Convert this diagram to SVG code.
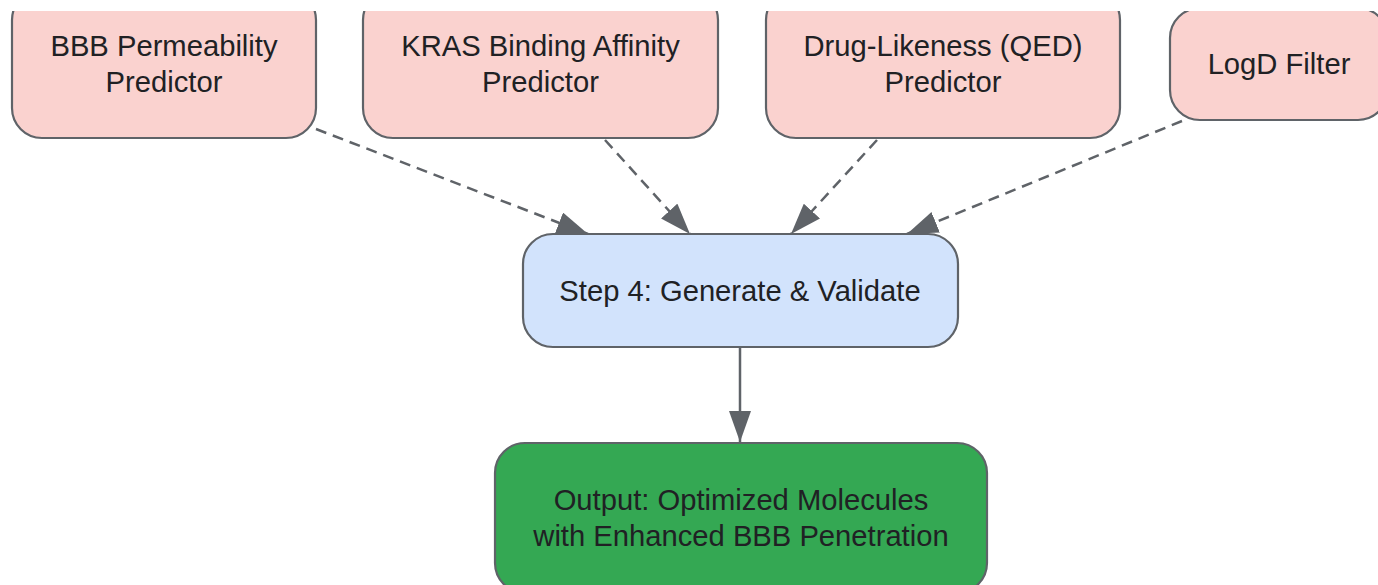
<svg xmlns="http://www.w3.org/2000/svg" width="1378" height="585" viewBox="0 0 1378 585">
<style>
.node rect{stroke:#5f6368;stroke-width:2.2}
.pink{fill:#fad2cf}
.blue{fill:#d2e3fc}
.green{fill:#34a853}
.lbl{font-family:"Liberation Sans",Arial,sans-serif;font-size:29.2px;fill:#202124;text-anchor:middle;dominant-baseline:central}
.edge{fill:none;stroke:#5f6368;stroke-width:2.5}
.dash{stroke-dasharray:11 7}
</style>
<defs>
<marker id="arrow" markerUnits="userSpaceOnUse" viewBox="0 0 31 22" markerWidth="31" markerHeight="22" refX="31" refY="11" orient="auto">
<path d="M0,0 L31,11 L0,22 z" fill="#5f6368"/>
</marker>
<clipPath id="clip"><rect x="0" y="11" width="1378" height="574"/></clipPath>
</defs>
<rect width="1378" height="585" fill="#ffffff"/>
<g clip-path="url(#clip)">
<g id="connectors">
<path class="edge dash" d="M316,129 L588,234" marker-end="url(#arrow)"/>
<path class="edge dash" d="M605,140 L690,234" marker-end="url(#arrow)"/>
<path class="edge dash" d="M877,140 L791,234" marker-end="url(#arrow)"/>
<path class="edge dash" d="M1182,121 L907,234" marker-end="url(#arrow)"/>
<path class="edge" d="M740,347 L740,442" marker-end="url(#arrow)"/>
</g>
<g id="bbb" class="node">
<rect class="pink" x="12" y="-10" width="304" height="148" rx="30"/>
<text class="lbl" x="164" y="46">BBB Permeability</text>
<text class="lbl" x="164" y="82">Predictor</text>
</g>
<g id="kras" class="node">
<rect class="pink" x="363" y="-10" width="355" height="148" rx="30"/>
<text class="lbl" x="540.5" y="46">KRAS Binding Affinity</text>
<text class="lbl" x="540.5" y="82">Predictor</text>
</g>
<g id="qed" class="node">
<rect class="pink" x="766" y="-10" width="354" height="148" rx="30"/>
<text class="lbl" x="943" y="46">Drug-Likeness (QED)</text>
<text class="lbl" x="943" y="82">Predictor</text>
</g>
<g id="logd" class="node">
<rect class="pink" x="1170" y="8" width="218" height="112" rx="30"/>
<text class="lbl" x="1279" y="64">LogD Filter</text>
</g>
<g id="step4" class="node">
<rect class="blue" x="523" y="234" width="435" height="113" rx="30"/>
<text class="lbl" x="740" y="291">Step 4: Generate &amp; Validate</text>
</g>
<g id="output" class="node">
<rect class="green" x="495" y="443" width="492" height="150" rx="30"/>
<text class="lbl" x="741" y="500">Output: Optimized Molecules</text>
<text class="lbl" x="741" y="536">with Enhanced BBB Penetration</text>
</g>
</g>
</svg>
